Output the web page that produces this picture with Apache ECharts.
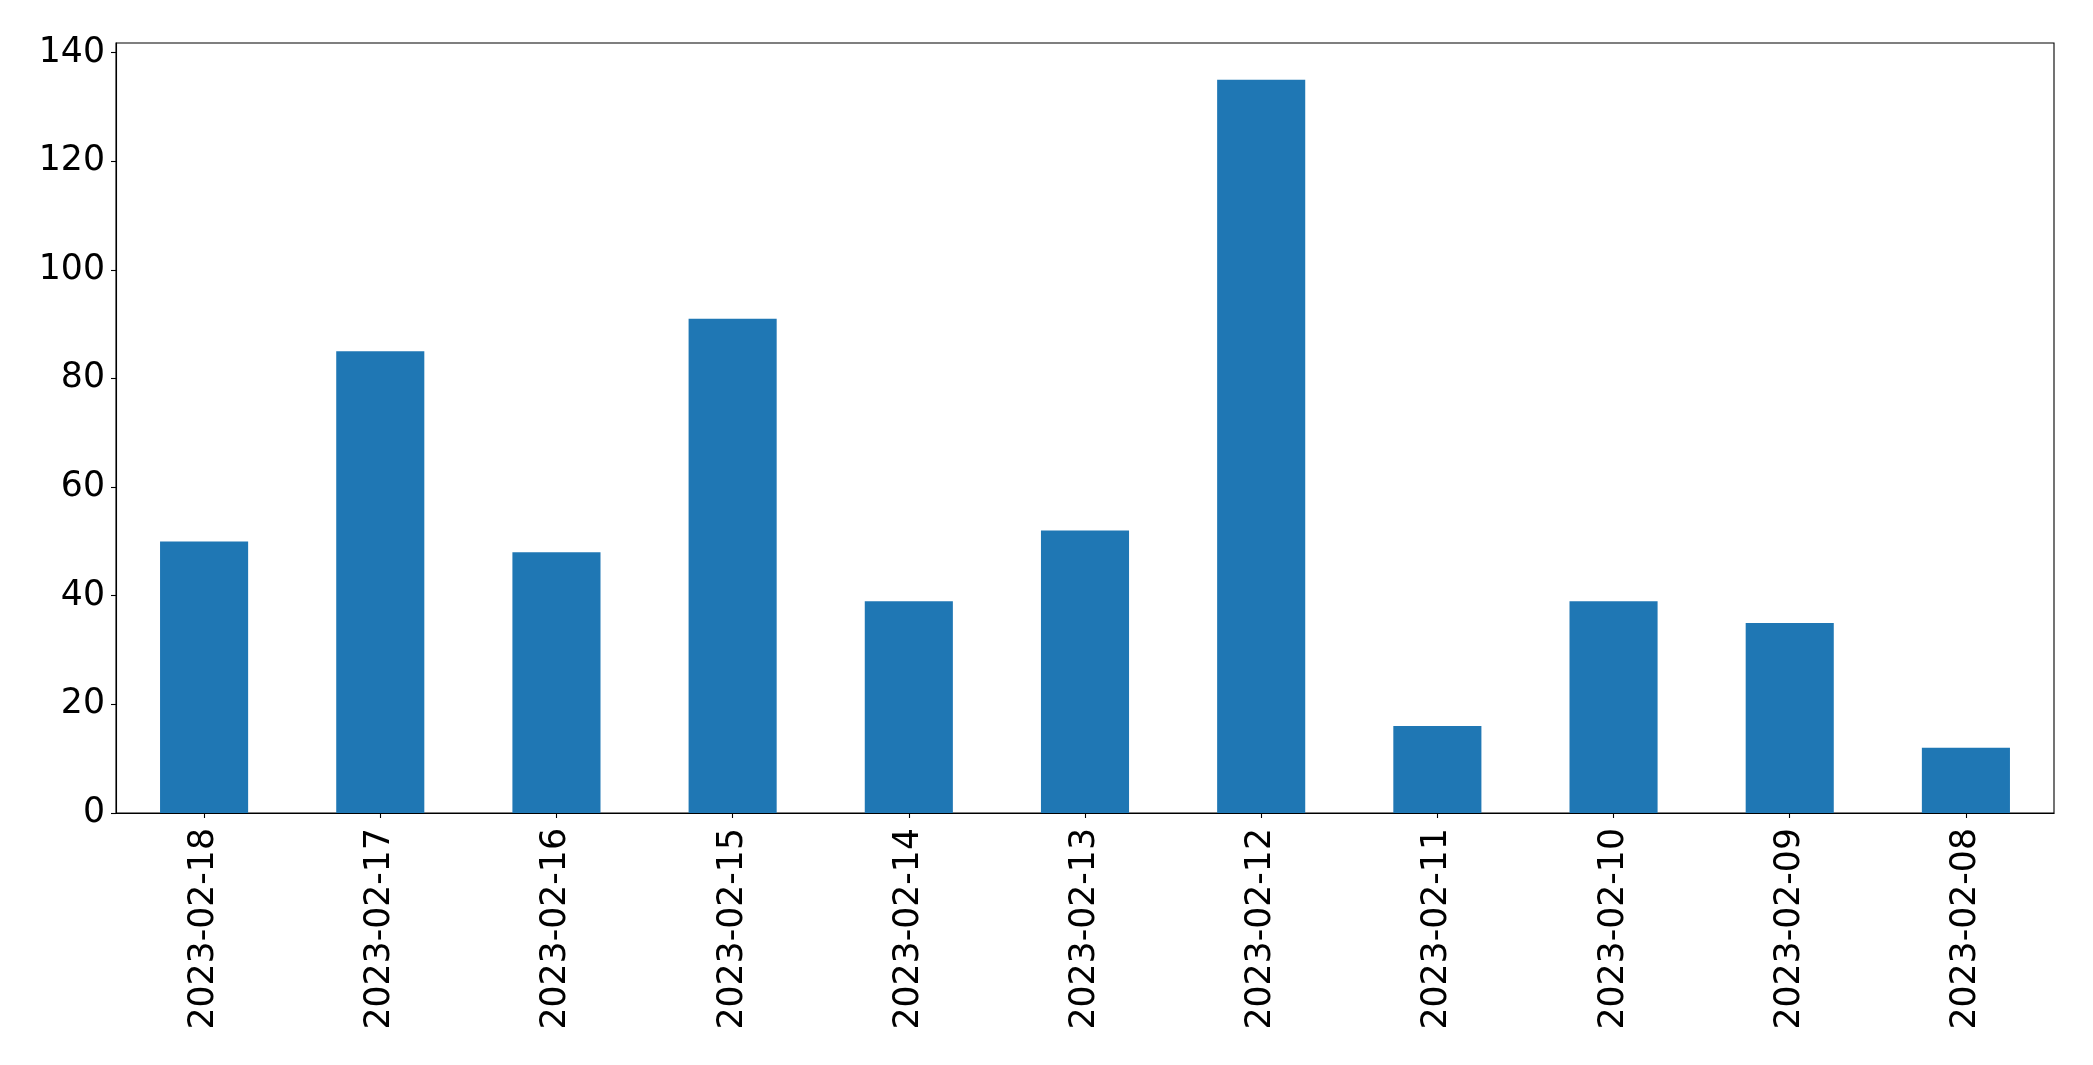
<!DOCTYPE html>
<html>
<head>
<meta charset="utf-8">
<script src="https://cdn.jsdelivr.net/npm/echarts@6/dist/echarts.min.js"></script>
<style>html,body{margin:0;padding:0;background:#fff}#c{width:2093px;height:1065px}</style>
</head>
<body>
<div id="c"></div>
<script>
const categories = ['2023-02-18','2023-02-17','2023-02-16','2023-02-15','2023-02-14','2023-02-13','2023-02-12','2023-02-11','2023-02-10','2023-02-09','2023-02-08'];
const values = [50, 85, 48, 91, 39, 52, 135, 16, 39, 35, 12];
const yMax = 141.75;

const chart = echarts.init(document.getElementById('c'), null, {renderer: 'canvas'});
const font = 'DejaVu Sans';
chart.setOption({
  animation: false,
  backgroundColor: '#fff',
  grid: {left: 116, right: 39, top: 43, bottom: 252, show: true, borderColor: '#000', borderWidth: 1.1, backgroundColor: 'transparent'},
  xAxis: {
    type: 'category',
    data: categories,
    boundaryGap: true,
    axisLine: {show: true, lineStyle: {color: '#000', width: 1.1}},
    axisTick: {show: true, alignWithLabel: true, length: 5, lineStyle: {color: '#000', width: 1.1}},
    axisLabel: {rotate: 90, margin: 15, fontSize: 34.7, fontFamily: font, color: '#000'},
    splitLine: {show: false}
  },
  yAxis: {
    type: 'value',
    min: 0, max: yMax, interval: 20,
    axisLine: {show: true, lineStyle: {color: '#000', width: 1.1}},
    axisTick: {show: true, length: 5, lineStyle: {color: '#000', width: 1.1}},
    axisLabel: {margin: 11, fontSize: 34.7, fontFamily: font, color: '#000', showMaxLabel: false,
      formatter: v => (Math.abs(v % 20) < 1e-9 ? String(v) : '')},
    splitLine: {show: false}
  },
  series: [{
    type: 'bar',
    data: values,
    barWidth: '50%',
    itemStyle: {color: '#1f77b4'}
  }]
});
</script>
</body>
</html>
